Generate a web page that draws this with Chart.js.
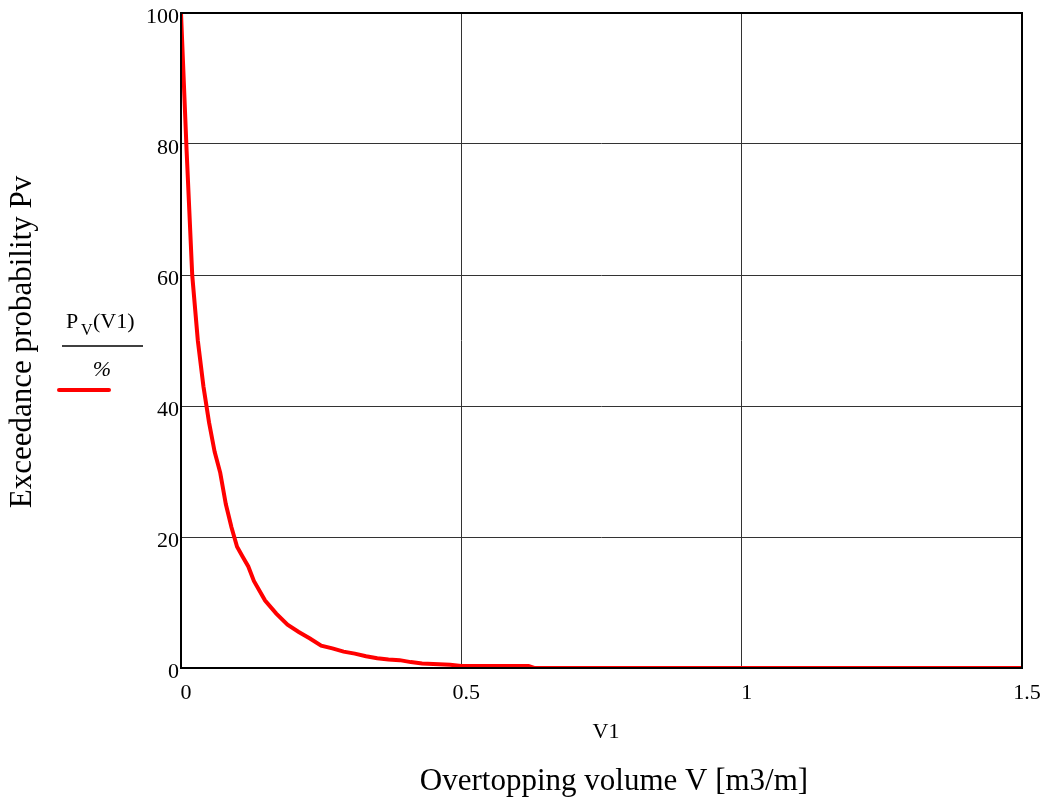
<!DOCTYPE html>
<html>
<head>
<meta charset="utf-8">
<title>Exceedance probability</title>
<script src="https://cdn.jsdelivr.net/npm/chart.js"></script>
<style>
  html, body { margin: 0; padding: 0; background: #fff; }
  #wrap { width: 1045px; height: 800px; position: relative; }
</style>
</head>
<body>
<div id="wrap"><canvas id="pvChart" width="1045" height="800"></canvas></div>
<script>
// overtopping volume V1 [m3/m] and exceedance probability Pv [%]
const volumes = [0, 0.01, 0.02, 0.03, 0.04, 0.05, 0.06, 0.07, 0.08, 0.09, 0.10,
    0.11, 0.12, 0.13, 0.15, 0.17, 0.19, 0.21, 0.23, 0.25, 0.27, 0.29, 0.31,
    0.33, 0.35, 0.37, 0.39, 0.41, 0.43, 0.45, 0.48, 0.50, 0.62, 0.63, 1.0, 1.5];
const probability = [100, 79, 60, 50, 43, 37.5, 33, 29.8, 25, 21.5, 18.5,
    17, 15.5, 13.3, 10.3, 8.3, 6.6, 5.5, 4.5, 3.4, 3.0, 2.5, 2.2,
    1.8, 1.5, 1.3, 1.2, 0.9, 0.7, 0.6, 0.5, 0.3, 0.3, 0, 0, 0];
const xTicks = [0, 0.5, 1, 1.5];
const yTicks = [0, 20, 40, 60, 80, 100];

const serif = '"Liberation Serif", "Times New Roman", serif';

// frame, axis titles and the little legend on the left
const decorations = {
    id: 'decorations',
    afterDraw(chart) {
        const ctx = chart.ctx;
        const a = chart.chartArea;
        ctx.save();
        ctx.strokeStyle = '#000';
        ctx.lineWidth = 2;
        ctx.strokeRect(a.left, a.top, a.right - a.left, a.bottom - a.top);

        ctx.fillStyle = '#000';
        ctx.textAlign = 'center';
        ctx.textBaseline = 'middle';
        ctx.font = '22px ' + serif;
        ctx.fillText('V1', 606, 732);
        ctx.font = '31px ' + serif;
        ctx.fillText('Overtopping volume V [m3/m]', 614, 782);

        ctx.save();
        ctx.translate(23, 342);
        ctx.rotate(-Math.PI / 2);
        ctx.fillText('Exceedance probability Pv', 0, 0);
        ctx.restore();

        // legend: Pv(V1) / %
        ctx.textAlign = 'left';
        ctx.font = '22px ' + serif;
        ctx.fillText('P', 66, 322);
        ctx.font = '16px ' + serif;
        ctx.fillText('V', 81, 331);
        ctx.font = '22px ' + serif;
        ctx.fillText('(V1)', 93, 322);
        ctx.lineWidth = 1.5;
        ctx.beginPath();
        ctx.moveTo(62, 346);
        ctx.lineTo(143, 346);
        ctx.stroke();
        ctx.textAlign = 'center';
        ctx.font = 'italic 22px ' + serif;
        ctx.fillText('%', 102, 370);
        ctx.strokeStyle = '#ff0000';
        ctx.lineWidth = 4;
        ctx.lineCap = 'round';
        ctx.beginPath();
        ctx.moveTo(59, 390);
        ctx.lineTo(109, 390);
        ctx.stroke();
        ctx.restore();
    }
};

new Chart(document.getElementById('pvChart'), {
    type: 'line',
    data: {
        datasets: [{
            label: 'Pv(V1)/%',
            data: volumes.map((v, i) => ({ x: v, y: probability[i] })),
            borderColor: '#ff0000',
            borderWidth: 4,
            pointRadius: 0,
            tension: 0,
            fill: false
        }]
    },
    options: {
        responsive: false,
        animation: false,
        layout: { padding: { left: 0, right: 23, top: 13, bottom: 0 } },
        plugins: {
            legend: { display: false },
            tooltip: { enabled: false }
        },
        scales: {
            x: {
                type: 'linear',
                min: 0,
                max: 1.5,
                afterBuildTicks: s => { s.ticks = xTicks.map(v => ({ value: v })); },
                afterFit: s => { s.height = 132; s.paddingLeft = 0; s.paddingRight = 0; },
                grid: { color: '#333', lineWidth: 1, drawTicks: false },
                border: { display: false },
                ticks: {
                    padding: 12,
                    labelOffset: 5,
                    color: '#000',
                    font: { family: serif, size: 22 },
                    maxRotation: 0,
                    callback: v => String(v)
                }
            },
            y: {
                type: 'linear',
                min: 0,
                max: 100,
                afterBuildTicks: s => { s.ticks = yTicks.map(v => ({ value: v })); },
                afterFit: s => { s.width = 181; s.paddingTop = 0; s.paddingBottom = 0; },
                grid: { color: '#333', lineWidth: 1, drawTicks: false },
                border: { display: false },
                ticks: {
                    padding: 2,
                    labelOffset: 4,
                    color: '#000',
                    font: { family: serif, size: 22 }
                }
            }
        }
    },
    plugins: [decorations]
});
</script>
</body>
</html>
